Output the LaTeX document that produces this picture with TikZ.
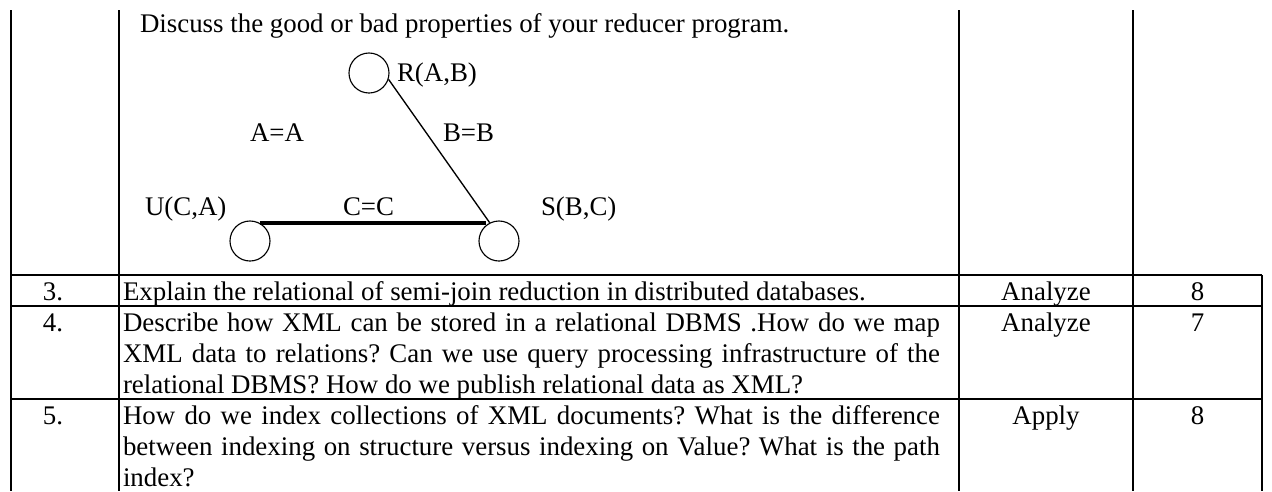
\documentclass[tikz,border=0pt]{standalone}
\usepackage{fontspec}
\setmainfont{Liberation Serif}
\frenchspacing
\begin{document}
\begin{tikzpicture}[x=0.44643pt,y=-0.44643pt,
  txt/.style={inner sep=0pt,outer sep=0pt,font=\fontsize{12}{13.8}\selectfont},
  lbl/.style={txt,anchor=base west},
  ctr/.style={txt,anchor=base},
  rel/.style={circle,draw,line width=0.5pt,minimum size=17.86pt,inner sep=0pt},
  rule/.style={line width=1pt},
  thinedge/.style={line width=0.6pt},
  thickedge/.style={line width=2pt}]
\useasboundingbox (0,0) rectangle (1272,491);

% table rules
\draw[rule] (11,10) -- (11,491);
\draw[rule] (119,10) -- (119,491);
\draw[rule] (959,10) -- (959,491);
\draw[rule] (1133,10) -- (1133,491);
\draw[rule] (1262,275) -- (1262,491);
\draw[rule] (11,275) -- (1262,275);
\draw[rule] (11,306) -- (1262,306);
\draw[rule] (11,399) -- (1262,399);

% question text of the first row
\node[lbl] (q2) at (140,32) {Discuss the good or bad properties of your reducer program.};

% join graph
\node[rel] (R) at (369,73) {};
\node[rel] (U) at (250,241) {};
\node[rel] (S) at (499,241) {};
\node[lbl] (Rl) at (397,81) {R(A,B)};
\node[lbl] (Ul) at (145,215) {U(C,A)};
\node[lbl] (Sl) at (541,215) {S(B,C)};
\node[lbl] (aa) at (250,141) {A=A};
\node[lbl] (bb) at (443,141) {B=B};
\node[lbl] (cc) at (343,215) {C=C};
\draw[thinedge] (R.-18) -- (S.117);
\draw[thickedge] (U.62) -- (U.62 -| S.128);

% row 3
\node[ctr] (n3) at (53,300) {3.};
\node[lbl] (t3) at (123,300) {Explain the relational of semi-join reduction in distributed databases.};
\node[ctr] (l3) at (1046,300) {Analyze};
\node[ctr] (m3) at (1197.5,300) {8};

% row 4
\node[ctr] (n4) at (53,331) {4.};
\node[lbl] (t4a) at (123,331) {\makebox[364.7pt][s]{Describe how XML can be stored in a relational DBMS .How do we map}};
\node[lbl] (t4b) at (123,362) {\makebox[364.7pt][s]{XML data to relations? Can we use query processing infrastructure of the}};
\node[lbl] (t4c) at (123,393) {relational DBMS? How do we publish relational data as XML?};
\node[ctr] (l4) at (1046,331) {Analyze};
\node[ctr] (m4) at (1197.5,331) {7};

% row 5
\node[ctr] (n5) at (53,424) {5.};
\node[lbl] (t5a) at (123,424) {\makebox[364.7pt][s]{How do we index collections of XML documents? What is the difference}};
\node[lbl] (t5b) at (123,455) {\makebox[364.7pt][s]{between indexing on structure versus indexing on Value? What is the path}};
\node[lbl] (t5c) at (123,486) {index?};
\node[ctr] (l5) at (1046,424) {Apply};
\node[ctr] (m5) at (1197.5,424) {8};
\end{tikzpicture}
\end{document}
